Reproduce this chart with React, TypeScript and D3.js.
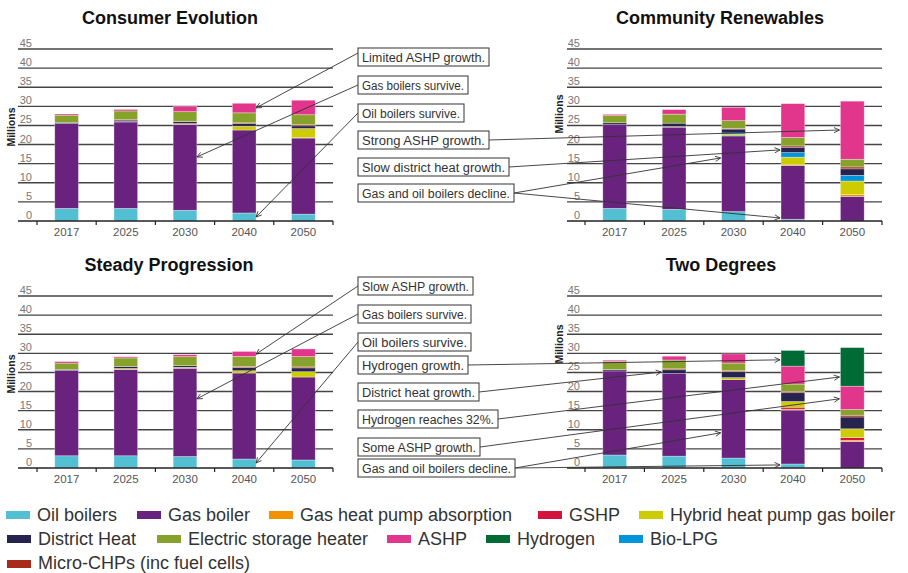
import React from "react";
import * as d3 from "d3";

// ---------- DATA ----------
const years = ["2017", "2025", "2030", "2040", "2050"];
const yTicks = [0, 5, 10, 15, 20, 25, 30, 35, 40, 45];

const seriesNames = [
  "Oil boilers",
  "Gas boiler",
  "Gas heat pump absorption",
  "GSHP",
  "Hybrid heat pump gas boiler",
  "Bio-LPG",
  "District Heat",
  "Micro-CHPs (inc fuel cells)",
  "Electric storage heater",
  "ASHP",
  "Hydrogen",
];
const seriesColors = [
  "#52bfd3",
  "#69237f",
  "#f39200",
  "#d3123d",
  "#cdcc00",
  "#0095da",
  "#26234f",
  "#a92a1b",
  "#86a22b",
  "#e2368c",
  "#006b35",
];
const legendOrder = [0, 1, 2, 3, 4, 6, 8, 9, 10, 5, 7];

// rows follow seriesNames order, columns follow years (millions)
const consumerEvolution = [
  [3.3, 3.3, 2.8, 2.1, 1.8],
  [22.2, 22.6, 22.5, 21.7, 19.9],
  [0, 0, 0, 0, 0.1],
  [0, 0, 0, 0, 0],
  [0, 0.1, 0.2, 1.0, 2.4],
  [0, 0, 0, 0, 0],
  [0.3, 0.4, 0.5, 0.7, 0.7],
  [0, 0.1, 0.1, 0.2, 0.3],
  [1.9, 2.3, 2.5, 2.6, 2.6],
  [0.3, 0.4, 1.4, 2.5, 3.8],
  [0, 0, 0, 0, 0],
];
const communityRenewables = [
  [3.3, 3.05, 2.45, 0.45, 0],
  [21.9, 21.5, 19.8, 14.1, 6.45],
  [0, 0, 0, 0.15, 0.5],
  [0, 0, 0, 0, 0],
  [0, 0.15, 0.4, 2.0, 3.5],
  [0, 0, 0.4, 1.2, 1.5],
  [0.5, 0.9, 1.0, 1.4, 1.7],
  [0, 0, 0.2, 0.35, 0.5],
  [1.9, 2.35, 2.0, 2.2, 2.0],
  [0.3, 1.2, 3.5, 8.85, 15.2],
  [0, 0, 0, 0, 0],
];
const steadyProgression = [
  [3.2, 3.2, 3.0, 2.35, 2.1],
  [22.3, 22.6, 23.1, 22.5, 21.7],
  [0, 0, 0, 0, 0],
  [0, 0, 0, 0, 0],
  [0, 0.25, 0.25, 0.6, 1.4],
  [0, 0, 0, 0, 0],
  [0.3, 0.5, 0.45, 0.85, 1.0],
  [0, 0, 0, 0.3, 0.25],
  [1.65, 2.25, 2.35, 2.6, 2.7],
  [0.4, 0.3, 0.5, 1.3, 2.0],
  [0, 0, 0, 0, 0],
];
const twoDegrees = [
  [3.4, 3.1, 2.6, 1.05, 0],
  [22.0, 21.6, 20.55, 14.1, 6.9],
  [0, 0, 0, 0.25, 0.35],
  [0, 0, 0, 0.5, 0.7],
  [0, 0, 0.5, 1.5, 2.3],
  [0, 0, 0, 0, 0],
  [0.35, 1.0, 1.55, 2.3, 3.1],
  [0, 0.25, 0.25, 0.35, 0.45],
  [2.1, 2.3, 2.0, 1.9, 1.5],
  [0.35, 1.0, 2.4, 4.7, 6.1],
  [0, 0, 0, 4.1, 10.1],
];

const scenarioTitles = ["Consumer Evolution", "Community Renewables", "Steady Progression", "Two Degrees"];
const scenarioData = [consumerEvolution, communityRenewables, steadyProgression, twoDegrees];

const noteTexts = [
  "Limited ASHP growth.",
  "Gas boilers survive.",
  "Oil boilers survive.",
  "Strong ASHP growth.",
  "Slow district heat growth.",
  "Gas and oil boilers decline.",
  "Slow ASHP growth.",
  "Gas boilers survive.",
  "Oil boilers survive.",
  "Hydrogen growth.",
  "District heat growth.",
  "Hydrogen reaches 32%.",
  "Some ASHP growth.",
  "Gas and oil boilers decline.",
];
// [panel index, year, value pointed at]
const noteTargets: [number, string, number][][] = [
  [[0, "2040", 29.6]],
  [[0, "2030", 16.75]],
  [[0, "2040", 1.05]],
  [[1, "2050", 23.8]],
  [[1, "2040", 18.6]],
  [[1, "2030", 16.5], [1, "2040", 0.8]],
  [[2, "2040", 29.8]],
  [[2, "2030", 18.1]],
  [[2, "2040", 1.3]],
  [[3, "2040", 28.3]],
  [[3, "2025", 25.1]],
  [[3, "2050", 23.8]],
  [[3, "2050", 18.1]],
  [[3, "2030", 9.2], [3, "2040", 0.8]],
];

// ---------- LAYOUT ----------
const W = 908;
const H = 573;
const FONT = "'Liberation Sans', Arial, Helvetica, sans-serif";

const panelLayout = [
  { bx0: 37, bx1: 333, gx0: 18, yb: 221, yt: 49, tx: 170, ty: 24, mx: 15, my: 127, lx: 32 },
  { bx0: 585, bx1: 882, gx0: 567, yb: 221, yt: 49, tx: 720, ty: 24, mx: 563, my: 114, lx: 580 },
  { bx0: 37, bx1: 333, gx0: 18, yb: 468, yt: 296, tx: 169, ty: 271, mx: 15, my: 374, lx: 32 },
  { bx0: 585, bx1: 882, gx0: 567, yb: 468, yt: 296, tx: 721, ty: 271, mx: 563, my: 344, lx: 580 },
];

const noteBoxX = 358;
const noteBoxY = [48, 76, 104, 131, 158, 184, 277, 305, 333, 356, 383, 410, 438, 459];
const noteBoxW = [131, 110, 106, 131, 151, 156, 115, 113, 113, 110, 121, 140, 122, 157];
const noteBoxH = 18;

function makeScales(i: number) {
  const p = panelLayout[i];
  const x = d3.scaleBand<string>().domain(years).range([p.bx0, p.bx1]).paddingInner(0.6).paddingOuter(0.3);
  const y = d3.scaleLinear().domain([0, 45]).range([p.yb, p.yt]);
  return { x, y };
}

function Panel({ i }: { i: number }) {
  const p = panelLayout[i];
  const { x, y } = makeScales(i);
  const data = scenarioData[i];
  const rows = years.map((yr, c) => {
    const o: Record<string, number | string> = { year: yr };
    data.forEach((s, j) => (o[String(j)] = s[c]));
    return o;
  });
  const keys = seriesNames.map((_, j) => String(j));
  const stacked = d3.stack<any>().keys(keys)(rows);
  const step = x.step();
  const boundaries = d3.range(years.length + 1).map((k) => p.bx0 + k * step);

  return (
    <g>
      <text x={p.tx} y={p.ty} textAnchor="middle" fontSize={18} fontWeight="bold" fill="#111">
        {scenarioTitles[i]}
      </text>
      <text
        transform={`translate(${p.mx},${p.my}) rotate(-90)`}
        textAnchor="middle"
        fontSize={10.5}
        fontWeight="bold"
        fill="#222"
      >
        Millions
      </text>
      {yTicks.map((t) => (
        <g key={t}>
          {t > 0 && (
            <line x1={p.gx0} x2={p.bx1} y1={y(t)} y2={y(t)} stroke="#444" strokeWidth={1.4} />
          )}
          <text x={p.lx} y={y(t) - 2} textAnchor="end" fontSize={11} fill="#777">
            {t}
          </text>
        </g>
      ))}
      {stacked.map((layer, j) => (
        <g key={j} fill={seriesColors[j]}>
          {layer.map((d: any, c: number) => {
            const h = y(d[0]) - y(d[1]);
            if (h <= 0) return null;
            return (
              <rect
                key={c}
                x={x(years[c])}
                y={y(d[1])}
                width={x.bandwidth()}
                height={h}
                stroke="#ffffff"
                strokeOpacity={0.45}
                strokeWidth={0.7}
              />
            );
          })}
        </g>
      ))}
      <line x1={p.gx0} x2={p.bx1} y1={y(0)} y2={y(0)} stroke="#222" strokeWidth={1.5} />
      {boundaries.map((bx, k) => (
        <line key={k} x1={bx} x2={bx} y1={y(0)} y2={y(0) + 4} stroke="#222" strokeWidth={1.2} />
      ))}
      {years.map((yr) => (
        <text
          key={yr}
          x={(x(yr) as number) + x.bandwidth() / 2}
          y={y(0) + 14.5}
          textAnchor="middle"
          fontSize={11.5}
          fill="#555"
        >
          {yr}
        </text>
      ))}
    </g>
  );
}

function Arrow({ x1, y1, x2, y2 }: { x1: number; y1: number; x2: number; y2: number }) {
  const a = Math.atan2(y2 - y1, x2 - x1);
  const L = 6;
  const s = 0.45;
  const ax = x2 - L * Math.cos(a - s);
  const ay = y2 - L * Math.sin(a - s);
  const bx = x2 - L * Math.cos(a + s);
  const by = y2 - L * Math.sin(a + s);
  return (
    <g stroke="#333" strokeWidth={0.9} fill="none">
      <line x1={x1} y1={y1} x2={x2} y2={y2} />
      <path d={`M${ax},${ay} L${x2},${y2} L${bx},${by}`} />
    </g>
  );
}

function Notes() {
  const scales = panelLayout.map((_, i) => makeScales(i));
  return (
    <g>
      {noteTexts.map((txt, n) => {
        const by = noteBoxY[n];
        const bw = noteBoxW[n];
        return (
          <g key={n}>
            {noteTargets[n].map(([pi, yr, v], k) => {
              const { x, y } = scales[pi];
              const leftPanel = pi === 0 || pi === 2;
              const tx = leftPanel ? (x(yr) as number) + x.bandwidth() : (x(yr) as number) - 1;
              const ty = y(v);
              const sx = leftPanel ? noteBoxX : noteBoxX + bw;
              const sy = n === 0 ? by + 5 : by + noteBoxH / 2;
              return <Arrow key={k} x1={sx} y1={sy} x2={tx} y2={ty} />;
            })}
            <rect x={noteBoxX} y={by} width={bw} height={noteBoxH} fill="#fff" stroke="#333" strokeWidth={1} />
            <text
              x={noteBoxX + 4}
              y={by + 13.5}
              fontSize={12.3}
              fill="#333"
              textLength={bw - 8}
              lengthAdjust="spacingAndGlyphs"
            >
              {txt}
            </text>
          </g>
        );
      })}
    </g>
  );
}

const legendRows = [
  { swY: 511, ty: 521, xs: [6, 137, 269, 538, 639] },
  { swY: 535, ty: 545, xs: [7, 157, 387, 486, 619] },
  { swY: 560, ty: 569, xs: [7] },
];

function Legend() {
  let idx = 0;
  return (
    <g>
      {legendRows.map((r, ri) =>
        r.xs.map((lx) => {
          const s = legendOrder[idx++];
          return (
            <g key={`${ri}-${lx}`}>
              <rect x={lx} y={r.swY} width={24} height={8} fill={seriesColors[s]} />
              <text x={lx + 31} y={r.ty} fontSize={18} fill="#333">
                {seriesNames[s]}
              </text>
            </g>
          );
        })
      )}
    </g>
  );
}

export default function App() {
  return (
    <svg
      width={W}
      height={H}
      viewBox={`0 0 ${W} ${H}`}
      style={{ position: "absolute", left: 0, top: 0, background: "#fff" }}
      fontFamily={FONT}
    >
      <rect x={0} y={0} width={W} height={H} fill="#fff" />
      {panelLayout.map((_, i) => (
        <Panel key={i} i={i} />
      ))}
      <Notes />
      <Legend />
    </svg>
  );
}
